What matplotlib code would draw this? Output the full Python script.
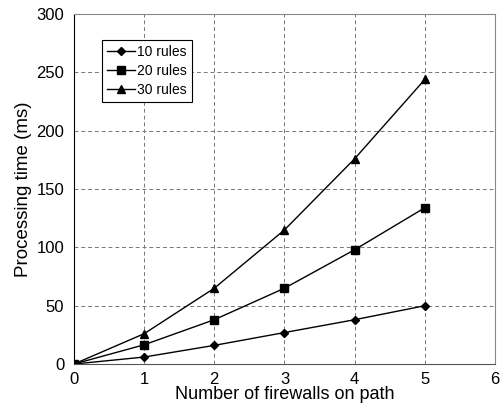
import numpy as np
import matplotlib.pyplot as plt

plt.rcParams['font.family'] = ['Liberation Sans', 'DejaVu Sans']

# data
firewalls = [0, 1, 2, 3, 4, 5]
rules_10 = [0, 6, 16, 27, 38, 50]
rules_20 = [0, 16.5, 38, 65, 98, 134]
rules_30 = [0, 26, 65, 115, 176, 244]

fig = plt.figure(figsize=(5.03, 4.17), dpi=100)
ax = fig.add_axes([0.147, 0.127, 0.837, 0.839])

ax.plot(firewalls, rules_10, color='black', lw=1, marker='D', ms=4, label='10 rules')
ax.plot(firewalls, rules_20, color='black', lw=1, marker='s', ms=6, label='20 rules')
ax.plot(firewalls, rules_30, color='black', lw=1, marker='^', ms=6, label='30 rules')

ax.set_xlim(0, 6)
ax.set_ylim(0, 300)
ax.set_xticks(range(0, 7))
ax.set_yticks(range(0, 301, 50))
ax.tick_params(axis='y', length=0, labelsize=12, pad=7)
ax.tick_params(axis='x', length=0, labelsize=12, pad=6)
ax.grid(True, linestyle=(0, (4, 3)), color='#777777', lw=0.7)

for s in ['top', 'right']:
    ax.spines[s].set_color('#888888')
ax.spines['bottom'].set_color('#555555')
ax.spines['left'].set_color('black')

ax.set_xlabel('Number of firewalls on path', fontsize=13, labelpad=-1)
ax.set_ylabel('Processing time (ms)', fontsize=13.5, labelpad=3)

leg = ax.legend(loc='upper left', bbox_to_anchor=(0.05, 0.945), fontsize=10,
                frameon=True, fancybox=False, edgecolor='black', framealpha=1,
                handlelength=2, handletextpad=0.2, borderpad=0.35, labelspacing=0.35)
leg.get_frame().set_linewidth(0.8)

fig.savefig('out.png', dpi=100)
